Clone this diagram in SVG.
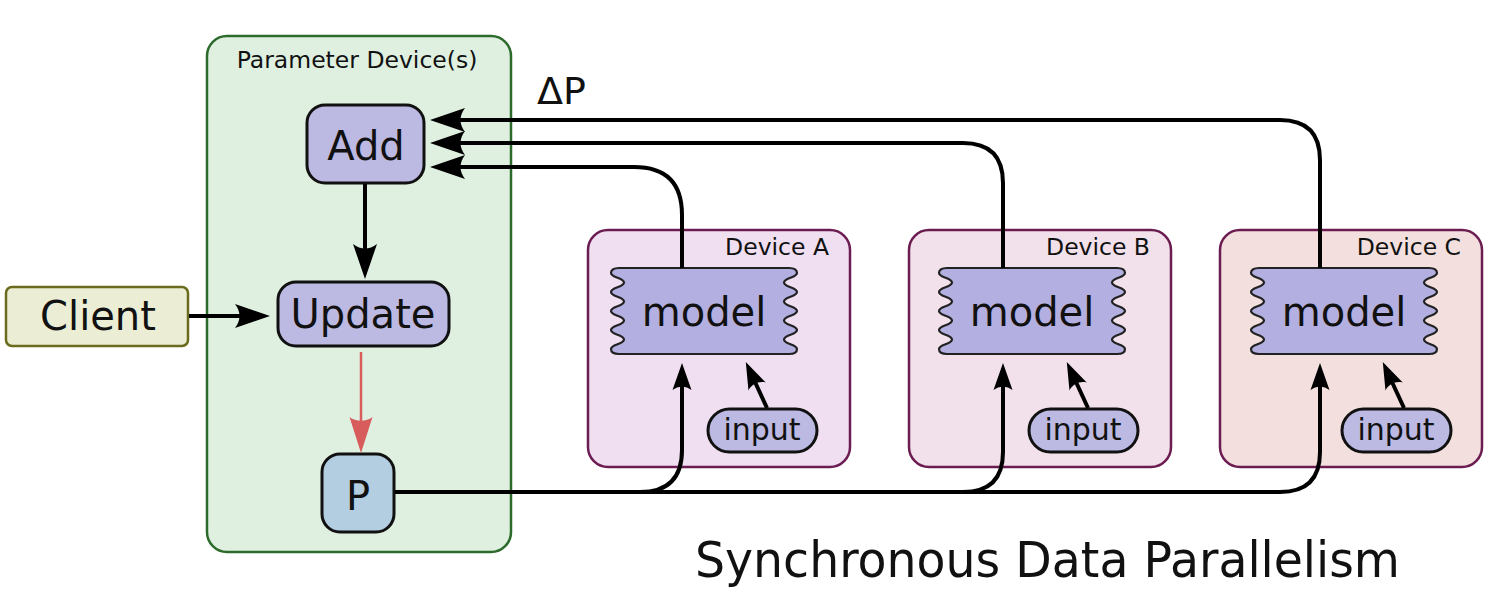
<svg xmlns="http://www.w3.org/2000/svg" width="1501" height="600" viewBox="0 0 1501 600">
<style>
text{font-family:"DejaVu Sans","Liberation Sans",sans-serif;fill:#111}
.node{stroke:#111;stroke-width:3}
.purple{fill:#bcb9e3}
.dev{stroke:#6b1d52;stroke-width:2.5}
.model{fill:#b3afe1;stroke:#222;stroke-width:2.2}
.lbl{font-size:23.5px;text-anchor:end}
.big{font-size:40px;text-anchor:middle}
.inp{font-size:30px;text-anchor:middle}
.conn{fill:none;stroke:#000;stroke-width:4}
</style>
<defs>
<marker id="arrowL" markerUnits="userSpaceOnUse" orient="auto" refX="0" refY="0" markerWidth="1" markerHeight="1" overflow="visible">
<path d="M 28,0 L -7,-12 C -1,-4 -1,4 -7,12 Z" fill="#000"/>
</marker>
<marker id="arrowM" markerUnits="userSpaceOnUse" orient="auto" refX="0" refY="0" markerWidth="1" markerHeight="1" overflow="visible">
<path d="M 22,0 L -5,-9.5 C -0.5,-4 -0.5,4 -5,9.5 Z" fill="#000"/>
</marker>
<marker id="arrowR" markerUnits="userSpaceOnUse" orient="auto" refX="0" refY="0" markerWidth="1" markerHeight="1" overflow="visible">
<path d="M 30,0 L -6,-11.5 C -1,-5 -1,5 -6,11.5 Z" fill="#d85c5c"/>
</marker>
<path id="modelShape" d="M 8,0 H 178 Q 186,0 186,5 c 0,4.75 -13,4.75 -13,9.5 c 0,4.75 13,4.75 13,9.5 c 0,4.75 -13,4.75 -13,9.5 c 0,4.75 13,4.75 13,9.5 c 0,4.75 -13,4.75 -13,9.5 c 0,4.75 13,4.75 13,9.5 c 0,4.75 -13,4.75 -13,9.5 c 0,4.75 13,4.75 13,9.5 Q 186,86 178,86 H 8 Q 0,86 0,81 c 0,-4.75 13,-4.75 13,-9.5 c 0,-4.75 -13,-4.75 -13,-9.5 c 0,-4.75 13,-4.75 13,-9.5 c 0,-4.75 -13,-4.75 -13,-9.5 c 0,-4.75 13,-4.75 13,-9.5 c 0,-4.75 -13,-4.75 -13,-9.5 c 0,-4.75 13,-4.75 13,-9.5 c 0,-4.75 -13,-4.75 -13,-9.5 Q 0,0 8,0 Z"/>
</defs>

<g id="param-devices">
<rect x="207" y="36" width="304" height="516" rx="20" fill="#dff0e0" stroke="#2d6b2d" stroke-width="2.5"/>
<text x="357" y="68" style="font-size:23.5px;text-anchor:middle">Parameter Device(s)</text>
</g>

<g id="device-a">
<rect class="dev" x="588" y="230" width="262" height="237" rx="20" fill="#f0dff0"/>
<text class="lbl" x="829" y="255">Device A</text>
</g>
<g id="device-b">
<rect class="dev" x="909" y="230" width="262" height="237" rx="20" fill="#f2e0ea"/>
<text class="lbl" x="1150" y="255">Device B</text>
</g>
<g id="device-c">
<rect class="dev" x="1220" y="230" width="262" height="237" rx="20" fill="#f3e0de"/>
<text class="lbl" x="1461" y="255">Device C</text>
</g>

<g id="add">
<rect class="node purple" x="307" y="105" width="117" height="78" rx="18"/>
<text class="big" x="366" y="160">Add</text>
</g>
<g id="update">
<rect class="node purple" x="278" y="282" width="171" height="64" rx="18"/>
<text class="big" x="363" y="328">Update</text>
</g>
<g id="p">
<rect class="node" x="322" y="454" width="72" height="78" rx="18" fill="#b3cee0"/>
<text class="big" x="358" y="510">P</text>
</g>
<g id="client">
<rect x="6" y="287" width="182" height="59" rx="6" fill="#ebedd5" stroke="#6b6b1e" stroke-width="2.5"/>
<text class="big" x="98" y="330">Client</text>
</g>

<g id="model-a">
<use href="#modelShape" class="model" transform="translate(611,268)"/>
<text class="big" x="704" y="326">model</text>
</g>
<g id="model-b">
<use href="#modelShape" class="model" transform="translate(939,268)"/>
<text class="big" x="1032" y="326">model</text>
</g>
<g id="model-c">
<use href="#modelShape" class="model" transform="translate(1251,268)"/>
<text class="big" x="1344" y="326">model</text>
</g>

<g id="input-a">
<rect class="node purple" x="708" y="409" width="109" height="43" rx="21.5"/>
<text class="inp" x="762" y="440">input</text>
</g>
<g id="input-b">
<rect class="node purple" x="1029" y="409" width="109" height="43" rx="21.5"/>
<text class="inp" x="1083" y="440">input</text>
</g>
<g id="input-c">
<rect class="node purple" x="1342" y="409" width="109" height="43" rx="21.5"/>
<text class="inp" x="1396" y="440">input</text>
</g>

<g id="connectors">
<path class="conn" d="M 365,184 V 251" marker-end="url(#arrowL)"/>
<path class="conn" d="M 189,316 H 242" marker-end="url(#arrowL)"/>
<path d="M 361,352 V 423" fill="none" stroke="#d85c5c" stroke-width="2.5" marker-end="url(#arrowR)"/>
<path class="conn" d="M 682,268 V 215 Q 682,167 634,167 H 458" marker-end="url(#arrowL)"/>
<path class="conn" d="M 1003,268 V 183 Q 1003,143 963,143 H 458" marker-end="url(#arrowL)"/>
<path class="conn" d="M 1320,268 V 160 Q 1320,120 1280,120 H 458" marker-end="url(#arrowL)"/>
<path class="conn" d="M 395,492 H 640 Q 682,492 682,450 V 385" marker-end="url(#arrowM)"/>
<path class="conn" d="M 395,492 H 963 Q 1003,492 1003,452 V 385" marker-end="url(#arrowM)"/>
<path class="conn" d="M 395,492 H 1280 Q 1320,492 1320,452 V 385" marker-end="url(#arrowM)"/>
<path class="conn" d="M 767,408 L 755,382" marker-end="url(#arrowM)"/>
<path class="conn" d="M 1088,408 L 1076,382" marker-end="url(#arrowM)"/>
<path class="conn" d="M 1404,408 L 1392,382" marker-end="url(#arrowM)"/>
<text x="537" y="104" style="font-size:38px">ΔP</text>
</g>

<text x="695" y="577" style="font-size:50px" textLength="705" lengthAdjust="spacingAndGlyphs">Synchronous Data Parallelism</text>
</svg>
